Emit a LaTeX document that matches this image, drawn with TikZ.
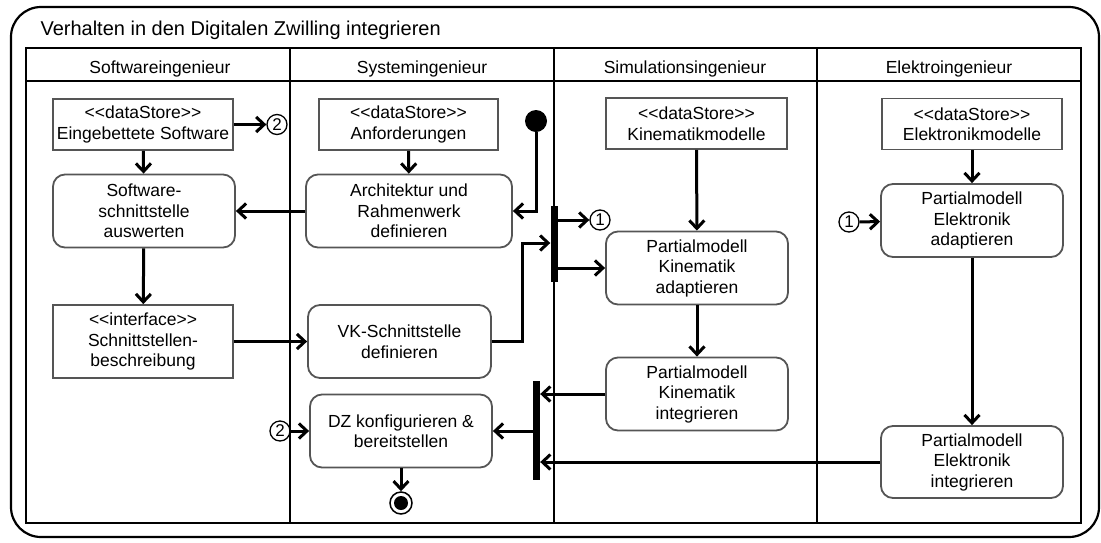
\documentclass[tikz,border=0pt]{standalone}
\usepackage{fontspec}
\setmainfont{Liberation Sans}[Ligatures=TeXOff]
\usetikzlibrary{arrows.meta}
\definecolor{boxgray}{RGB}{85,85,85}
\begin{document}
\begin{tikzpicture}[x=1pt,y=-1pt,
  lbl/.style={font=\fontsize{17.5}{20.5}\selectfont},
  store/.style={draw=boxgray, line width=1.8pt, minimum width=180pt, minimum height=51pt, inner sep=0pt, align=center, lbl},
  action/.style={draw=boxgray, line width=1.8pt, rounded corners=12pt, minimum width=182pt, minimum height=73pt, inner sep=0pt, align=center, lbl},
  flow/.style={line width=3pt, -{Straight Barb[length=8pt,width=15pt]}},
  bar/.style={fill=black, minimum width=7pt, inner sep=0pt},
  conn/.style={circle, draw, line width=1.3pt, minimum size=20pt, inner sep=0pt, font=\fontsize{17}{17}\selectfont},
  lane/.style={line width=1.6pt},
  head/.style={anchor=base, lbl},
]
\useasboundingbox (0,0) rectangle (1101,542);

% frame and title
\draw[line width=2.2pt, rounded corners=30pt] (11,7) rectangle (1099,537);
\node[anchor=base west, font=\fontsize{20}{24}\selectfont] (title) at (37,35) {Verhalten in den Digitalen Zwilling integrieren};

% swimlanes
\draw[lane] (26,48) rectangle (1081,523);
\draw[lane] (26,81) -- (1081,81);
\draw[lane] (290,48) -- (290,523);
\draw[lane] (554,48) -- (554,523);
\draw[lane] (817,48) -- (817,523);
\node[head] (h1) at (160,73) {Softwareingenieur};
\node[head] (h2) at (422,73) {Systemingenieur};
\node[head] (h3) at (685,73) {Simulationsingenieur};
\node[head] (h4) at (949,73) {Elektroingenieur};

% Softwareingenieur
\node[store] (esw) at (143,124.5) {<<dataStore>>\\Eingebettete Software};
\node[conn] (c2a) at (277,124.5) {2};
\node[action] (ssa) at (144,211) {Software-\\schnittstelle\\auswerten};
\node[store, minimum height=73pt] (sb) at (143,341.5) {<<interface>>\\Schnittstellen-\\beschreibung};

% Systemingenieur
\node[store, minimum width=179pt] (anf) at (408.5,124.5) {<<dataStore>>\\Anforderungen};
\node[action, minimum width=206pt] (arch) at (409,211) {Architektur und\\Rahmenwerk\\definieren};
\node[circle, fill=black, minimum size=22pt, inner sep=0pt] (start) at (536,121) {};
\node[action, minimum width=183pt] (vk) at (399.5,341.5) {VK-Schnittstelle\\definieren};
\node[action] (dz) at (401,431) {DZ konfigurieren \&\\bereitstellen};
\node[conn] (c2b) at (280,431) {2};
\node[circle, draw, line width=1.5pt, minimum size=22pt, inner sep=0pt] (final) at (401,503) {};
\fill (final.center) circle (7pt);
\node[bar, minimum height=76pt] (bar1) at (554,244) {};
\node[bar, minimum height=99pt] (bar2) at (536.5,430.5) {};
\coordinate (k1) at (522,243);

% Simulationsingenieur
\node[store, minimum width=181pt] (kmod) at (696.5,123.5) {<<dataStore>>\\Kinematikmodelle};
\node[action] (kad) at (697,268) {Partialmodell\\Kinematik\\adaptieren};
\node[action] (kint) at (697,394) {Partialmodell\\Kinematik\\integrieren};
\node[conn] (c1a) at (600,220) {1};

% Elektroingenieur
\node[store] (emod) at (972,124) {<<dataStore>>\\Elektronikmodelle};
\node[action] (ead) at (972,220.5) {Partialmodell\\Elektronik\\adaptieren};
\node[action, minimum height=72pt] (eint) at (972,462) {Partialmodell\\Elektronik\\integrieren};
\node[conn] (c1b) at (849,222) {1};

% control and object flows
\draw[flow] (esw) -- (c2a);
\draw[flow] (esw) -- (ssa);
\draw[flow] (arch) -- (ssa);
\draw[flow] (ssa) -- (sb);
\draw[flow] (sb) -- (vk);
\draw[flow] (anf) -- (arch);
\draw[flow] (start) |- (arch.east);
\draw[flow] (vk.east) -| (k1) -- (bar1.west |- k1);
\draw[flow] (bar1.east |- c1a) -- (c1a);
\draw[flow] (bar1.east |- kad.west) -- (kad.west);
\draw[flow] (kmod) -- (kad);
\draw[flow] (kad) -- (kint);
\draw[flow] (kint.west) -- (bar2.east |- kint.west);
\draw[flow] (eint.west) -- (bar2.east |- eint.west);
\draw[flow] (bar2.west |- dz.east) -- (dz.east);
\draw[flow] (c2b) -- (dz);
\draw[flow] (dz) -- (final);
\draw[flow] (emod) -- (ead);
\draw[flow] (ead) -- (eint);
\draw[flow] (c1b) -- (ead);
\end{tikzpicture}
\end{document}
